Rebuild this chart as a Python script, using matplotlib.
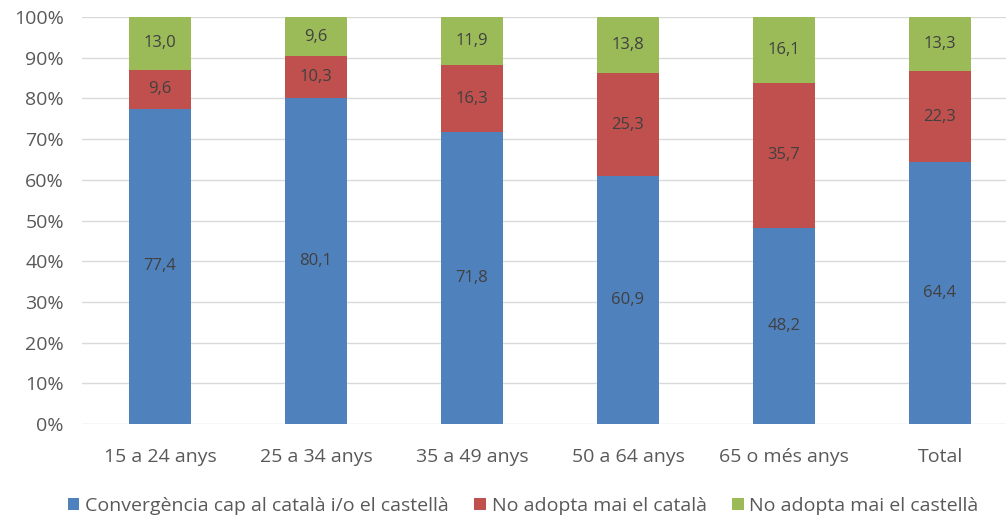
import matplotlib
matplotlib.use("Agg")
import matplotlib.pyplot as plt
from matplotlib.patches import Patch
from matplotlib.ticker import FuncFormatter

categories = ["15 a 24 anys", "25 a 34 anys", "35 a 49 anys", "50 a 64 anys", "65 o més anys", "Total"]
convergencia = [77.4, 80.1, 71.8, 60.9, 48.2, 64.4]
no_catala = [9.6, 10.3, 16.3, 25.3, 35.7, 22.3]
no_castella = [13.0, 9.6, 11.9, 13.8, 16.1, 13.3]
series_names = ["Convergència cap al català i/o el castellà",
                "No adopta mai el català",
                "No adopta mai el castellà"]
colors = ["#4F81BD", "#C0504D", "#9BBB59"]

plt.rcParams['font.family'] = ['Open Sans', 'DejaVu Sans']

fig = plt.figure(figsize=(10.06, 5.18), dpi=100)
ax = fig.add_axes([82 / 1006, 94 / 518, (1006 - 82) / 1006, 407 / 518])

x = list(range(len(categories)))
width = 0.40
bottom = [0.0] * len(categories)
for vals, col in zip([convergencia, no_catala, no_castella], colors):
    ax.bar(x, vals, width, bottom=bottom, color=col, zorder=3)
    for xi, b, v in zip(x, bottom, vals):
        ax.text(xi, b + v / 2, f"{v:.1f}".replace(".", ","), ha="center", va="center",
                fontsize=12, color="#404040", zorder=4)
    bottom = [b + v for b, v in zip(bottom, vals)]

ax.set_ylim(0, 100)
ax.set_xlim(-0.5, (1006 - 160) / 156)
ax.set_yticks(range(0, 101, 10))
ax.yaxis.set_major_formatter(FuncFormatter(lambda v, p: f"{int(v)}%"))
ax.set_xticks(x)
ax.set_xticklabels(categories)
ax.tick_params(axis="both", length=0, labelsize=14, colors="#595959")
ax.tick_params(axis="x", pad=17)
ax.tick_params(axis="y", pad=13)
ax.grid(axis="y", color="#D9D9D9", linewidth=1, zorder=0)
for s in ax.spines.values():
    s.set_visible(False)

handles = [Patch(facecolor=c) for c in colors]
fig.legend(handles, series_names, loc="center", bbox_to_anchor=(0.52, 12 / 518),
           ncol=3, frameon=False, fontsize=14, labelcolor="#595959",
           handlelength=0.6, handleheight=0.6, handletextpad=0.3, columnspacing=1.3)

fig.savefig("out.png", dpi=100)
